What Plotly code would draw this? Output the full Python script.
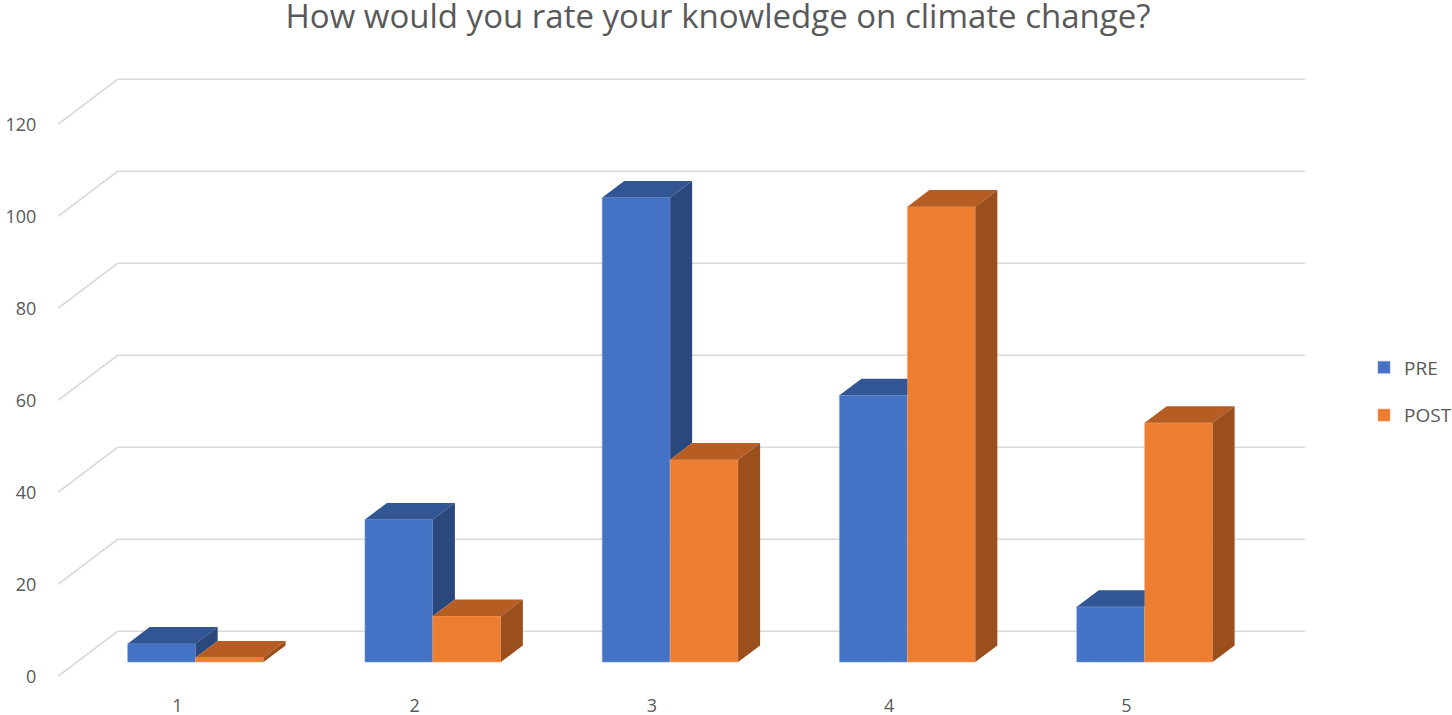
import plotly.graph_objects as go

# data
categories = ["1", "2", "3", "4", "5"]
pre = [4, 31, 101, 58, 12]
post = [1, 10, 44, 99, 52]
y_ticks = [0, 20, 40, 60, 80, 100, 120]

title = "How would you rate your knowledge on climate change?"

# fake-3D geometry (in axis units)
BAR_W = 0.2864
PRE_OFF = -0.066
POST_OFF = 0.2204
DX = 0.0927      # bar depth, x
DY = 3.6         # bar depth, y
BASE = 3.1       # front face floor above label plane
WALL_X0, WALL_X1, WALL_X2 = 0.497, 0.7485, 5.753
WALL_DY = 9.78

PRE_C = dict(front="#4472C4", top="#325694", side="#2A487C")
POST_C = dict(front="#ED7D31", top="#B55D22", side="#9A4F1D")
GRID = "#D9D9D9"
TEXT = "#595959"
FONT = "Open Sans"

W, H = 1452, 715

xpos = list(range(1, len(categories) + 1))


def poly(pts_list):
    xs, ys = [], []
    for pts in pts_list:
        for x, y in pts + [pts[0]]:
            xs.append(x)
            ys.append(y)
        xs.append(None)
        ys.append(None)
    return xs, ys


def face_trace(pts_list, color, group):
    xs, ys = poly(pts_list)
    return go.Scatter(x=xs, y=ys, mode="lines", fill="toself", fillcolor=color,
                      line=dict(width=0, color=color), hoverinfo="skip",
                      showlegend=False, legendgroup=group)


fig = go.Figure()

fig.add_trace(go.Bar(x=[x + PRE_OFF for x in xpos], y=pre, base=BASE, width=BAR_W, name="PRE",
                     marker=dict(color=PRE_C["front"], line=dict(width=0.6, color="#7F9FD8")),
                     legendgroup="pre"))
fig.add_trace(go.Bar(x=[x + POST_OFF for x in xpos], y=post, base=BASE, width=BAR_W, name="POST",
                     marker=dict(color=POST_C["front"], line=dict(width=0.6, color="#F3A46E")),
                     legendgroup="post"))

pre_top, pre_side, post_top, post_side = [], [], [], []
for x, a, b in zip(xpos, pre, post):
    xl = x + PRE_OFF - BAR_W / 2
    xr = xl + BAR_W
    ta = BASE + a
    if b >= a:
        # post bar hides the back-right part of the pre top
        pre_top.append([(xl, ta), (xl + DX, ta + DY), (xr, ta + DY), (xr, ta)])
    else:
        pre_top.append([(xl, ta), (xl + DX, ta + DY), (xr + DX, ta + DY), (xr, ta)])
        tb = BASE + b
        pre_side.append([(xr, tb), (xr + DX, tb + DY), (xr + DX, ta + DY), (xr, ta)])

    pl = x + POST_OFF - BAR_W / 2
    pr = pl + BAR_W
    tb = BASE + b
    post_top.append([(pl, tb), (pl + DX, tb + DY), (pr + DX, tb + DY), (pr, tb)])
    post_side.append([(pr, BASE), (pr + DX, BASE + DY), (pr + DX, tb + DY), (pr, tb)])

fig.add_trace(face_trace(pre_top, PRE_C["top"], "pre"))
if pre_side:
    fig.add_trace(face_trace(pre_side, PRE_C["side"], "pre"))
fig.add_trace(face_trace(post_top, POST_C["top"], "post"))
fig.add_trace(face_trace(post_side, POST_C["side"], "post"))

# gridlines on the back wall + slanted side wall
shapes = []
for v in y_ticks:
    shapes.append(dict(type="path", xref="x", yref="y", layer="below",
                       path=f"M {WALL_X0},{v} L {WALL_X1},{v + WALL_DY} L {WALL_X2},{v + WALL_DY}",
                       line=dict(color=GRID, width=1.6)))

# plot box in screen pixels
PLOT_L, PLOT_R, PLOT_TOP, PLOT_BOTTOM = 58, 1305, 60, 688
fig.update_layout(
    width=W, height=H,
    margin=dict(l=PLOT_L, r=W - PLOT_R, t=PLOT_TOP, b=H - PLOT_BOTTOM, autoexpand=False),
    paper_bgcolor="white", plot_bgcolor="white",
    font=dict(family=FONT, color=TEXT, size=18),
    title=dict(text=title, x=718 / W, xref="container", xanchor="center",
               y=1 - 16 / H, yref="container", yanchor="middle",
               font=dict(size=33, color=TEXT, family=FONT)),
    barmode="overlay", shapes=shapes,
    legend=dict(x=(1364 - PLOT_L) / (PLOT_R - PLOT_L), xanchor="left",
                y=(PLOT_BOTTOM - 391.5) / (PLOT_BOTTOM - PLOT_TOP), yanchor="middle",
                traceorder="grouped", tracegroupgap=20, font=dict(size=19, color=TEXT)),
)
fig.update_xaxes(range=[WALL_X0, WALL_X2], tickvals=xpos, ticktext=categories,
                 showgrid=False, zeroline=False, showline=False, automargin=False,
                 ticks="outside", ticklen=1, tickcolor="rgba(0,0,0,0)")
fig.update_yaxes(range=[(676.3 - PLOT_BOTTOM) / 4.6, (676.3 - PLOT_TOP) / 4.6], tickvals=y_ticks,
                 showgrid=False, zeroline=False, showline=False, automargin=False,
                 ticks="outside", ticklen=17, tickcolor="rgba(0,0,0,0)")

# drop the default body margin so the figure sits at the window's corner
fig.write_html("out.html", config={"displayModeBar": False},
               post_script="document.body.style.margin = '0';")
